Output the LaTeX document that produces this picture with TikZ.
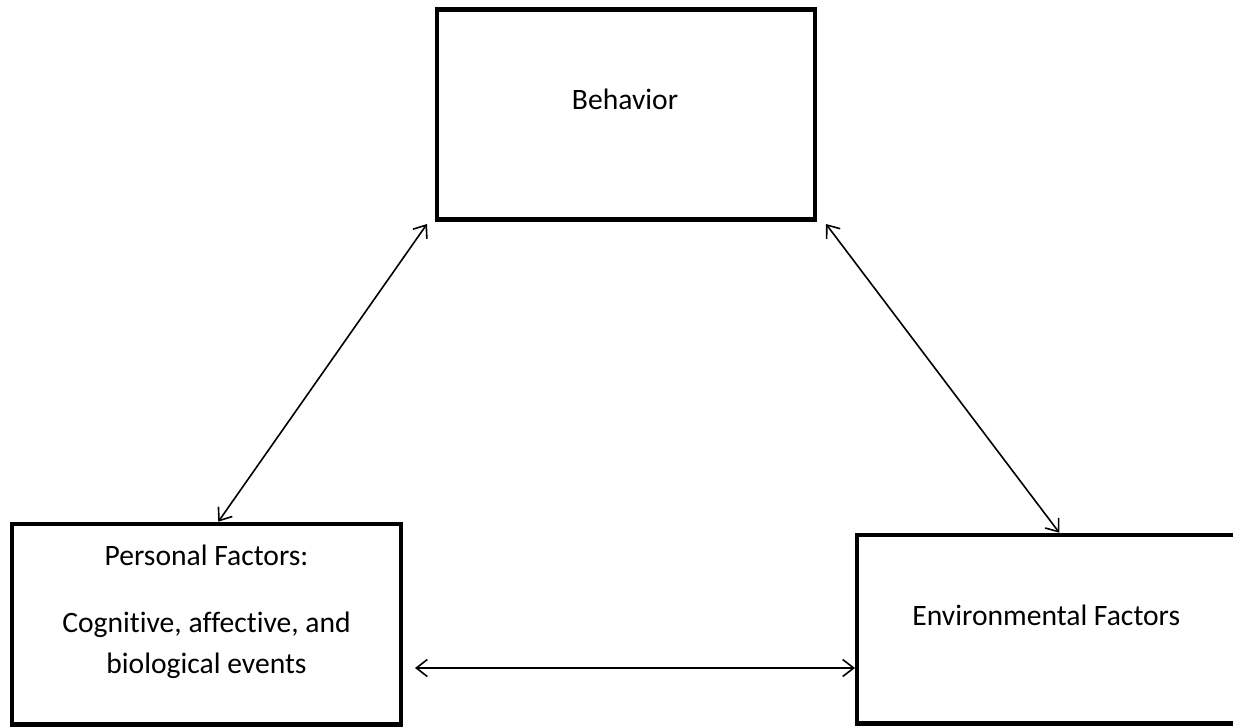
\documentclass[tikz,border=0pt]{standalone}
\usepackage{fontspec}
\setmainfont[Ligatures={NoCommon}]{Carlito}
\usetikzlibrary{arrows.meta,calc}
\begin{document}
\begin{tikzpicture}[x=1pt,y=-1pt,
  box/.style={draw, line width=4.4pt, inner sep=0pt, outer sep=0pt},
  lbl/.style={font=\fontsize{29.6}{35}\selectfont, anchor=base, inner sep=0pt},
  link/.style={line width=1.6pt, {Straight Barb[length=11pt,width=17pt]}-{Straight Barb[length=11pt,width=17pt]}}]
\useasboundingbox (0,0) rectangle (1233,726);
\clip (0,0) rectangle (1233,726);
\fill[white] (0,0) rectangle (1233,726);
\node[box, minimum width=378pt, minimum height=210pt] (beh) at (626,114.5) {};
\node[box, minimum width=389pt, minimum height=200.5pt] (per) at (206.5,624.25) {};
\node[box, minimum width=400pt, minimum height=188.5pt] (env) at (1057,629.25) {};
\node[lbl] (tb) at (625,109) {Behavior};
\node[lbl] (tp1) at (206.5,565) {Personal Factors:};
\node[lbl] (tp2) at (206.5,632) {Cognitive, affective, and};
\node[lbl] (tp3) at (206.5,673) {biological events};
\node[lbl] (te) at (1046.3,625) {Environmental Factors};
\draw[link] ($(beh.south west)+(-10,4.5)$) -- ($(per.north)+(11.8,-2.3)$);
\draw[link] ($(beh.south east)+(11,4.5)$) -- ($(env.north west)+(202.3,-2.3)$);
\draw[link] ($(per.east)+(14,43.75)$) -- ($(env.west)+(-2,38.75)$);
\end{tikzpicture}
\end{document}
